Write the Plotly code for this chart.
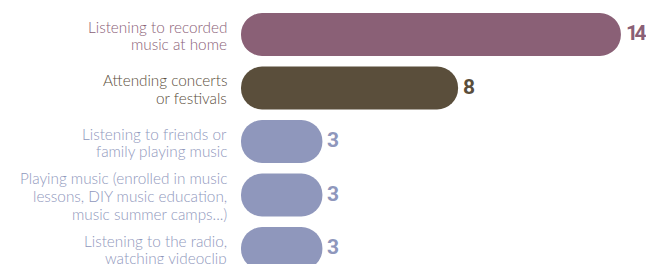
import plotly.graph_objects as go

categories = [
    "Listening to recorded<br>music at home",
    "Attending concerts<br>or festivals",
    "Listening to friends or<br>family playing music",
    "Playing music (enrolled in music<br>lessons, DIY music education,<br>music summer camps...)",
    "Listening to the radio,<br>watching videoclip",
]
values = [14, 8, 3, 3, 3]
colors = ["#8A6076", "#5A4E3B", "#8F97BC", "#8F97BC", "#8F97BC"]

ypos = list(range(len(values)))

fig = go.Figure()
fig.add_trace(go.Bar(
    y=ypos, x=values, base=[0] * len(values), orientation="h",
    marker=dict(color=colors, line=dict(width=0)), width=0.8,
    hoverinfo="skip", showlegend=False,
))

LINE = 17.7
annotations = []
for i, (c, v, col) in enumerate(zip(categories, values, colors)):
    lines = c.split("<br>")
    n = len(lines)
    for k, ln in enumerate(lines):
        annotations.append(dict(
            x=0, xref="paper", y=i, yref="y", text=ln, showarrow=False,
            xanchor="right", yanchor="middle", align="right", xshift=-12,
            yshift=-((k - (n - 1) / 2) * LINE) - 1,
            font=dict(family="Lato, 'Open Sans', sans-serif", size=15.3, color=col, weight=300),
        ))
    annotations.append(dict(
        x=v, xref="x", y=i, yref="y",
        text=f'<span style="letter-spacing:-3.5px">{v}</span>', showarrow=False,
        xanchor="left", yanchor="middle", xshift=3, yshift=1,
        font=dict(family="Roboto, 'Liberation Sans', sans-serif", size=21, color=col, weight="bold"),
    ))

fig.update_layout(
    width=646, height=256,
    margin=dict(l=233, r=0, t=0, b=0),
    plot_bgcolor="white", paper_bgcolor="white",
    barcornerradius="50%",
    xaxis=dict(range=[0, 15.22], visible=False, fixedrange=True),
    yaxis=dict(range=[4.29, -0.495], visible=False, fixedrange=True),
    annotations=annotations,
)

fig.write_html("out.html")
